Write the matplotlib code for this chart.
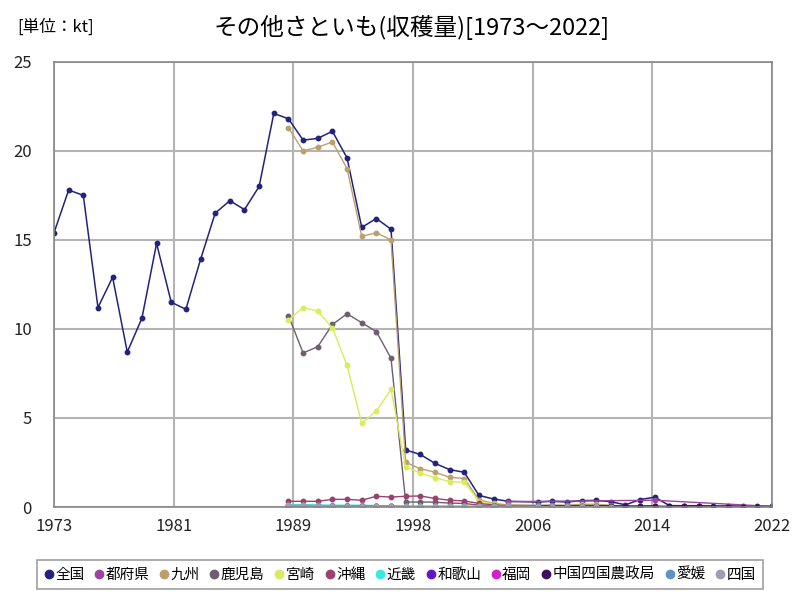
import numpy as np
import matplotlib
matplotlib.use("Agg")
import matplotlib.pyplot as plt
from matplotlib.lines import Line2D

plt.rcParams['font.family'] = ['Noto Sans CJK JP', 'DejaVu Sans']

# データ (単位: kt)
years = list(range(1973, 2023))
sub_years = list(range(1989, 2023))
N = None

zenkoku = [15.4, 17.8, 17.5, 11.2, 12.9, 8.7, 10.6, 14.8, 11.5, 11.1,
           13.9, 16.5, 17.2, 16.7, 18.0, 22.1, 21.8, 20.6, 20.7, 21.1,
           19.6, 15.7, 16.2, 15.6, 3.2, 2.95, 2.45, 2.1, 1.95, 0.65,
           0.45, 0.32, N, 0.28, 0.32, 0.28, 0.36, 0.37, 0.3, 0.12,
           0.42, 0.55, 0.08, 0.07, 0.07, 0.06, 0.06, 0.05, 0.05, 0.04]

# 1989年以降の系列
todofuken = [N] * 15 + [0.3] + [N] * 9 + [0.38] + [N] * 7 + [0.03]
kyushu = [21.3, 20.0, 20.2, 20.5, 19.0, 15.2, 15.4, 15.0, 2.5, 2.15,
          1.95, 1.67, 1.6, 0.4, 0.2, 0.12, N, 0.1, 0.12, 0.1,
          0.15, 0.15, 0.1] + [N] * 11
kagoshima = [10.75, 8.65, 9.0, 10.25, 10.85, 10.35, 9.85, 8.35, 0.28, 0.28,
             0.27, 0.22, 0.2, 0.1, 0.06, 0.05, N, 0.05, 0.05, 0.05,
             0.08, 0.08, 0.04] + [N] * 11
miyazaki = [10.5, 11.2, 11.0, 10.05, 7.95, 4.7, 5.4, 6.6, 2.25, 1.9,
            1.65, 1.42, 1.4, 0.3, 0.15, 0.08, N, 0.06, 0.08, 0.06,
            0.1, 0.1, 0.05] + [N] * 11
okinawa = [0.32, 0.32, 0.32, 0.43, 0.43, 0.38, 0.6, 0.56, 0.6, 0.62,
           0.48, 0.38, 0.34, 0.2, 0.12, 0.08, N, 0.07, 0.07, 0.07,
           0.08, 0.08, 0.06, 0.05, 0.05, 0.08] + [N] * 8
kinki = [0.12, 0.14, 0.12, 0.1, 0.1, 0.1, 0.08, 0.06, 0.04, 0.04,
         0.04, 0.04, 0.03, 0.03, 0.03, 0.03, N, 0.03, 0.03, 0.03,
         0.03, 0.03, 0.02] + [N] * 11
wakayama = [0.05, 0.05, 0.05, 0.04, 0.04, 0.04, 0.03, 0.03, 0.02, 0.02,
            0.02, 0.02, 0.02, 0.02, 0.02, 0.02, N, 0.02, 0.02, 0.02,
            0.02, 0.02, 0.01] + [N] * 11
fukuoka = [0.04, 0.04, 0.04, 0.04, 0.03, 0.03, 0.03, 0.03, 0.02, 0.02,
           0.02, 0.02, 0.02, 0.01, 0.01, 0.01, N, 0.01, 0.01, 0.01,
           0.01, 0.01, 0.01] + [N] * 11
chugoku_shikoku = [N] * 17 + [0.06, 0.07, 0.07, 0.08, 0.08, 0.06, 0.05,
                              0.04, 0.05, 0.03, 0.03, 0.03, 0.02, 0.02,
                              0.02, 0.02, 0.02]
ehime = [0.08, 0.08, 0.06, 0.05, 0.04, 0.03, 0.03, 0.02, 0.02, 0.02,
         0.02, 0.02, 0.02, 0.02, 0.02, 0.02, N, 0.02, 0.02, 0.02,
         0.02, 0.02, 0.01] + [N] * 11
shikoku = [0.09, 0.09, 0.07, 0.06, 0.05, 0.04, 0.04, 0.03, 0.03, 0.03,
           0.03, 0.03, 0.03, 0.03, 0.03, 0.03, N, 0.03, 0.03, 0.03,
           0.03, 0.03, 0.02] + [N] * 11

series = [
    ("全国", years, zenkoku, "#23237e"),
    ("都府県", sub_years, todofuken, "#9b45a0"),
    ("九州", sub_years, kyushu, "#bba06c"),
    ("鹿児島", sub_years, kagoshima, "#6e5e6e"),
    ("宮崎", sub_years, miyazaki, "#d9ec5a"),
    ("沖縄", sub_years, okinawa, "#9c416f"),
    ("近畿", sub_years, kinki, "#3ee6e0"),
    ("和歌山", sub_years, wakayama, "#6415c4"),
    ("福岡", sub_years, fukuoka, "#d223c6"),
    ("中国四国農政局", sub_years, chugoku_shikoku, "#3f0d5c"),
    ("愛媛", sub_years, ehime, "#5f92c4"),
    ("四国", sub_years, shikoku, "#9e9eae"),
]

fig = plt.figure(figsize=(8, 6), dpi=100)
ax = fig.add_axes([0.0675, 0.155, 0.8975, 0.742])

handles = []
for name, xs, ys, color in series:
    pts = [(x, y) for x, y in zip(xs, ys) if y is not None]
    px = [p[0] for p in pts]
    py = [p[1] for p in pts]
    lw = 1.1 if name == "全国" else 1.0
    ax.plot(px, py, color=color, lw=lw, marker='o', markersize=3.2)
    handles.append(Line2D([], [], color=color, marker='o', linestyle='none',
                          markersize=6, label=name))

ax.set_xlim(1973, 2022)
ax.set_ylim(0, 25)
xt = np.linspace(1973, 2022, 7)
ax.set_xticks(xt)
ax.set_xticklabels([str(int(np.floor(v + 0.5))) for v in xt])
ax.set_yticks(range(0, 26, 5))
ax.tick_params(labelsize=12, length=0, colors='#222222')
ax.tick_params(axis='y', pad=16)
ax.tick_params(axis='x', pad=8)
ax.grid(True, color='#b4b4b4', lw=1.5)
ax.set_axisbelow(True)
for s in ax.spines.values():
    s.set_color('#888888')
    s.set_linewidth(1.2)

fig.text(0.515, 0.955, "その他さといも(収穫量)[1973～2022]", ha='center',
         va='center', fontsize=17)
fig.text(0.022, 0.955, "[単位：kt]", ha='left', va='center', fontsize=12)

leg = fig.legend(handles=handles, loc='center', bbox_to_anchor=(0.5, 0.042),
                 ncol=12, fontsize=10.5, handlelength=0.6, handletextpad=0.15,
                 columnspacing=0.7, borderpad=0.5, fancybox=False,
                 frameon=True)
leg.get_frame().set_edgecolor('#888888')
leg.get_frame().set_linewidth(1.2)

fig.savefig("out.png", dpi=100)
